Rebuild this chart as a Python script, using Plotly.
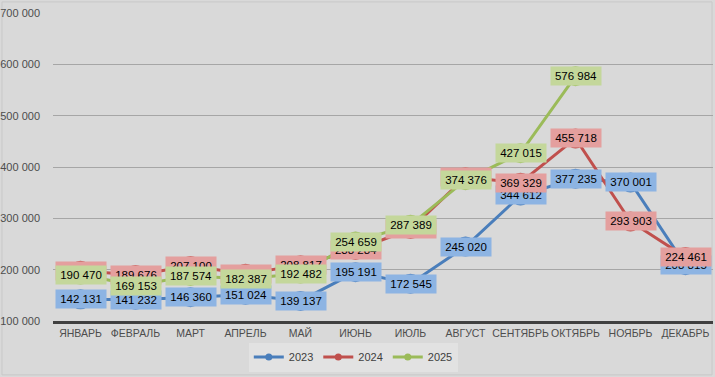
import plotly.graph_objects as go

months = ["ЯНВАРЬ", "ФЕВРАЛЬ", "МАРТ", "АПРЕЛЬ", "МАЙ", "ИЮНЬ", "ИЮЛЬ",
          "АВГУСТ", "СЕНТЯБРЬ", "ОКТЯБРЬ", "НОЯБРЬ", "ДЕКАБРЬ"]
v2023 = [142131, 141232, 146360, 151024, 139137, 195191, 172545, 245020,
         344612, 377235, 370001, 208815]
v2024 = [198000, 189676, 207100, 192000, 208817, 238284, 279000, 380000,
         369329, 455718, 293903, 224461]
v2025 = [190470, 169153, 187574, 182387, 192482, 254659, 287389, 374376,
         427015, 576984]
series_names = ["2023", "2024", "2025"]
line_colors = ["#4a7ebb", "#c0504d", "#9bbb59"]
label_fills = ["#8db4e3", "#e49f9e", "#c4d79b"]
y_ticks = [100000, 200000, 300000, 400000, 500000, 600000, 700000]

def fmt(v):
    return f"{v:,}".replace(",", " ")

fig = go.Figure()
all_series = [v2023, v2024, v2025]
for name, vals, col in zip(series_names, all_series, line_colors):
    fig.add_trace(go.Scatter(
        x=months[:len(vals)], y=vals, mode="lines+markers", name=name,
        line=dict(color=col, width=3), marker=dict(color=col, size=20),
        showlegend=False, hoverinfo="skip", cliponaxis=False))
for name, col in zip(series_names, line_colors):
    fig.add_trace(go.Scatter(
        x=[None], y=[None], mode="lines+markers", name=name,
        line=dict(color=col, width=3), marker=dict(color=col, size=7)))

annotations = []
for vals, fill in zip(all_series, label_fills):
    for m, v in zip(months, vals):
        annotations.append(dict(
            x=m, y=v, xref="x", yref="y", text=fmt(v), showarrow=False,
            bgcolor=fill, borderpad=2, width=46, height=14,
            font=dict(family="Liberation Sans", size=11.5, color="#000000")))

fig.update_layout(
    width=715, height=377,
    margin=dict(l=53, r=2, t=13, b=56, autoexpand=False),
    paper_bgcolor="#d9d9d9", plot_bgcolor="#d9d9d9",
    font=dict(family="Liberation Sans", size=11, color="#595959"),
    annotations=annotations,
    legend=dict(orientation="h", x=0.455, xanchor="center", y=-0.07,
                yanchor="top", bgcolor="#e2e2e2",
                font=dict(size=11, color="#404040"),
                itemwidth=30, tracegroupgap=0),
    shapes=[dict(type="rect", xref="paper", yref="paper",
                 x0=-0.0773, x1=0.9985, y0=-0.175, y1=1.036,
                 line=dict(color="#c8c8c8", width=1), layer="below")],
    showlegend=True,
)
fig.update_xaxes(showgrid=False, showline=True, linecolor="#404040",
                 linewidth=3, ticks="", tickangle=0, automargin=False,
                 range=[-0.5, 11.5],
                 tickfont=dict(size=10.5, color="#4d4d4d"),
                 categoryorder="array", categoryarray=months)
fig.update_yaxes(range=[100000, 700000], tickvals=y_ticks,
                 ticktext=[fmt(t) for t in y_ticks], showgrid=True,
                 gridcolor="#a6a6a6", gridwidth=1, zeroline=False,
                 automargin=False,
                 tickfont=dict(size=11, color="#4d4d4d"), ticklabelstandoff=12)

fig.write_html("out.html",
               config={"displayModeBar": False},
               post_script="document.body.style.margin='0';"
                           "document.body.style.overflow='hidden';")
